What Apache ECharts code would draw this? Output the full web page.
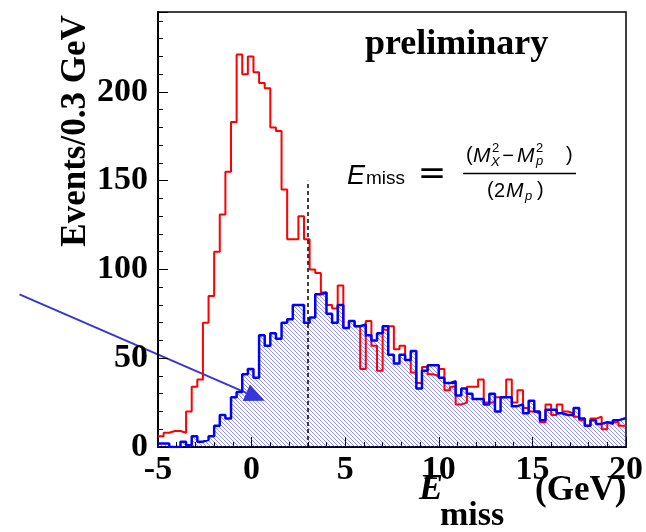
<!DOCTYPE html>
<html>
<head>
<meta charset="utf-8">
<script src="https://cdn.jsdelivr.net/npm/echarts@6/dist/echarts.min.js"></script>
<style>
  html, body { margin: 0; padding: 0; background: #fff; }
  #chart { width: 646px; height: 532px; }
</style>
</head>
<body>
<div id="chart"></div>
<script>
// binning: 0.3 GeV bins starting at -5 GeV
const binLow = -5;
const binWidth = 0.3;
const xMax = 20;

// red histogram (all events), counts per bin
const redCounts = [
  6, 8, 9, 9, 8, 20, 34, 38, 70, 85,
  110, 131, 155, 183, 221, 210, 220, 211, 205, 202,
  180, 178, 145, 117, 117, 130, 117, 100, 98, 87,
  80, 78, 91, 67, 71, 68, 44, 71, 57, 43,
  66, 68, 55, 57, 49, 42, 36, 45, 41, 40,
  44, 32, 34, 24, 25, 34, 34, 38, 25, 25,
  28, 28, 38, 25, 32, 22, 20, 19, 14, 24,
  18, 24, 20, 19, 17, 15, 12, 16, 17, 10,
  14, 14, 12, 12
];

// blue histogram (selected events), counts per bin
const blueCounts = [
  2, 2, 0, 0, 3, 1, 6, 3, 4, 6,
  12, 18, 16, 28, 31, 41, 44, 39, 63, 57,
  64, 61, 70, 72, 80, 80, 70, 73, 86, 87,
  75, 70, 80, 67, 71, 68, 69, 63, 60, 64,
  68, 52, 47, 52, 49, 54, 33, 43, 46, 46,
  39, 36, 37, 29, 33, 30, 27, 27, 24, 30,
  20, 28, 28, 23, 24, 19, 26, 20, 15, 21,
  21, 19, 18, 18, 22, 16, 12, 15, 13, 14,
  13, 15, 16, 16
];

const yTickLabels = ['0', '50', '100', '150', '200'];
const cutValue = 3;      // dashed line position
const cutHeight = 150;
// arrow, in data coordinates (starts left of the frame)
const arrowFrom = [-12.4, 86];
const arrowTo = [0.7, 26];

function stepPoints(counts) {
  const pts = counts.map((c, i) => [+(binLow + i * binWidth).toFixed(2), c]);
  pts.push([xMax, counts[counts.length - 1]]);
  return pts;
}

// hatch pattern like ROOT fill style
function hatch() {
  const c = document.createElement('canvas');
  c.width = 4; c.height = 4;
  const g = c.getContext('2d');
  g.strokeStyle = 'rgba(60,60,225,0.55)';
  g.lineWidth = 1;
  g.beginPath();
  g.moveTo(0, 0); g.lineTo(4, 4);
  g.moveTo(-1, 3); g.lineTo(1, 5);
  g.moveTo(3, -1); g.lineTo(5, 1);
  g.stroke();
  return c;
}

const serif = "'Liberation Serif', 'Times New Roman', serif";
const sans = "'Liberation Sans', Arial, sans-serif";

const chart = echarts.init(document.getElementById('chart'));

const option = {
  animation: false,
  grid: {
    left: 158, right: 20, top: 12, bottom: 85,
    show: true, borderColor: '#000', borderWidth: 1.5
  },
  xAxis: {
    type: 'value', min: binLow, max: xMax, interval: 5,
    axisLine: { show: true, onZero: false, lineStyle: { color: '#000', width: 2 } },
    axisTick: { show: true, inside: true, length: 10, lineStyle: { color: '#000', width: 1 } },
    minorTick: { show: true, splitNumber: 5, length: 5, lineStyle: { color: '#000', width: 1 } },
    splitLine: { show: false },
    axisLabel: {
      margin: 6, color: '#000', fontFamily: serif, fontWeight: 'bold', fontSize: 34
    }
  },
  yAxis: {
    type: 'value', min: 0, max: 245, interval: 50,
    axisLine: { show: true, onZero: false, lineStyle: { color: '#000', width: 2 } },
    axisTick: { show: true, inside: true, length: 10, lineStyle: { color: '#000', width: 1 } },
    minorTick: { show: true, splitNumber: 5, length: 5, lineStyle: { color: '#000', width: 1 } },
    splitLine: { show: false },
    axisLabel: {
      margin: 10, color: '#000', fontFamily: serif, fontWeight: 'bold', fontSize: 34,
      showMaxLabel: false,
      formatter: v => yTickLabels[v / 50] || ''
    }
  },
  series: [
    {
      name: 'blueFill', type: 'line', step: 'end', symbol: 'none', z: 1,
      data: stepPoints(blueCounts),
      lineStyle: { width: 0, opacity: 0 },
      areaStyle: { color: { image: hatch(), repeat: 'repeat' }, opacity: 1 }
    },
    {
      name: 'red', type: 'line', step: 'end', symbol: 'none', z: 3,
      data: stepPoints(redCounts),
      lineStyle: { color: '#ff0000', width: 2 }
    },
    {
      name: 'blue', type: 'line', step: 'end', symbol: 'none', z: 4,
      data: stepPoints(blueCounts),
      lineStyle: { color: '#0000ff', width: 2.5 },
      markLine: {
        silent: true, symbol: ['none', 'none'], label: { show: false },
        lineStyle: { color: '#000', type: [4, 3], width: 1.5 },
        data: [[{ coord: [cutValue, 0] }, { coord: [cutValue, cutHeight] }]]
      }
    }
  ]
};
chart.setOption(option);

// arrow from data coords to pixels
const p0 = chart.convertToPixel({ gridIndex: 0 }, arrowFrom);
const p1 = chart.convertToPixel({ gridIndex: 0 }, arrowTo);
const dx = p1[0] - p0[0], dy = p1[1] - p0[1];
const len = Math.sqrt(dx * dx + dy * dy);
const ux = dx / len, uy = dy / len;
const headLen = 20, headHalf = 9;
const bx = p1[0] - ux * headLen, by = p1[1] - uy * headLen;

function t(text, x, y, font, align, extra) {
  return Object.assign({
    type: 'text', silent: true,
    style: { text: text, x: x, y: y, font: font, fill: '#000',
      textAlign: align || 'left', textVerticalAlign: 'middle' }
  }, extra || {});
}

const it = s => 'italic ' + s + 'px ' + sans;
const rg = s => s + 'px ' + sans;

chart.setOption({
  graphic: [
    { type: 'line', silent: true, shape: { x1: p0[0], y1: p0[1], x2: bx, y2: by },
      style: { stroke: '#3636d6', lineWidth: 2 } },
    { type: 'polygon', silent: true,
      shape: { points: [[p1[0], p1[1]],
        [bx - uy * headHalf, by + ux * headHalf],
        [bx + uy * headHalf, by - ux * headHalf]] },
      style: { fill: '#3636d6' } },
    // axis titles
    t('Events/0.3 GeV', 0, 0, 'bold 35px ' + serif, 'center',
      { x: 76, y: 131, rotation: Math.PI / 2 }),
    t('E', 419, 490, 'bold italic 36px ' + serif),
    t('miss', 440, 516, 'bold 34px ' + serif),
    t('(GeV)', 535, 491, 'bold 35px ' + serif),
    // label
    t('preliminary', 365, 45, 'bold 36px ' + serif),
    // formula
    t('E', 347, 176, it(27)),
    t('miss', 366, 179, rg(19)),
    t('=', 432, 175, "34px 'DejaVu Sans', sans-serif", 'center'),
    { type: 'line', silent: true, shape: { x1: 463, y1: 173.5, x2: 576, y2: 173.5 },
      style: { stroke: '#000', lineWidth: 1.5 } },
    t('(', 466, 155, rg(20)),
    t('M', 473, 156, it(21)),
    t('2', 492, 148, rg(13)),
    t('X', 491, 162, it(13)),
    t('\u2212', 508, 156, rg(20), 'center'),
    t('M', 517, 156, it(21)),
    t('2', 536, 148, rg(13)),
    t('p', 536, 161, it(13)),
    t(')', 566, 155, rg(20)),
    t('(', 487, 190, rg(20)),
    t('2', 494, 191, rg(20)),
    t('M', 506, 191, it(21)),
    t('p', 525, 196, it(13)),
    t(')', 537, 190, rg(20))
  ]
});
</script>
</body>
</html>
